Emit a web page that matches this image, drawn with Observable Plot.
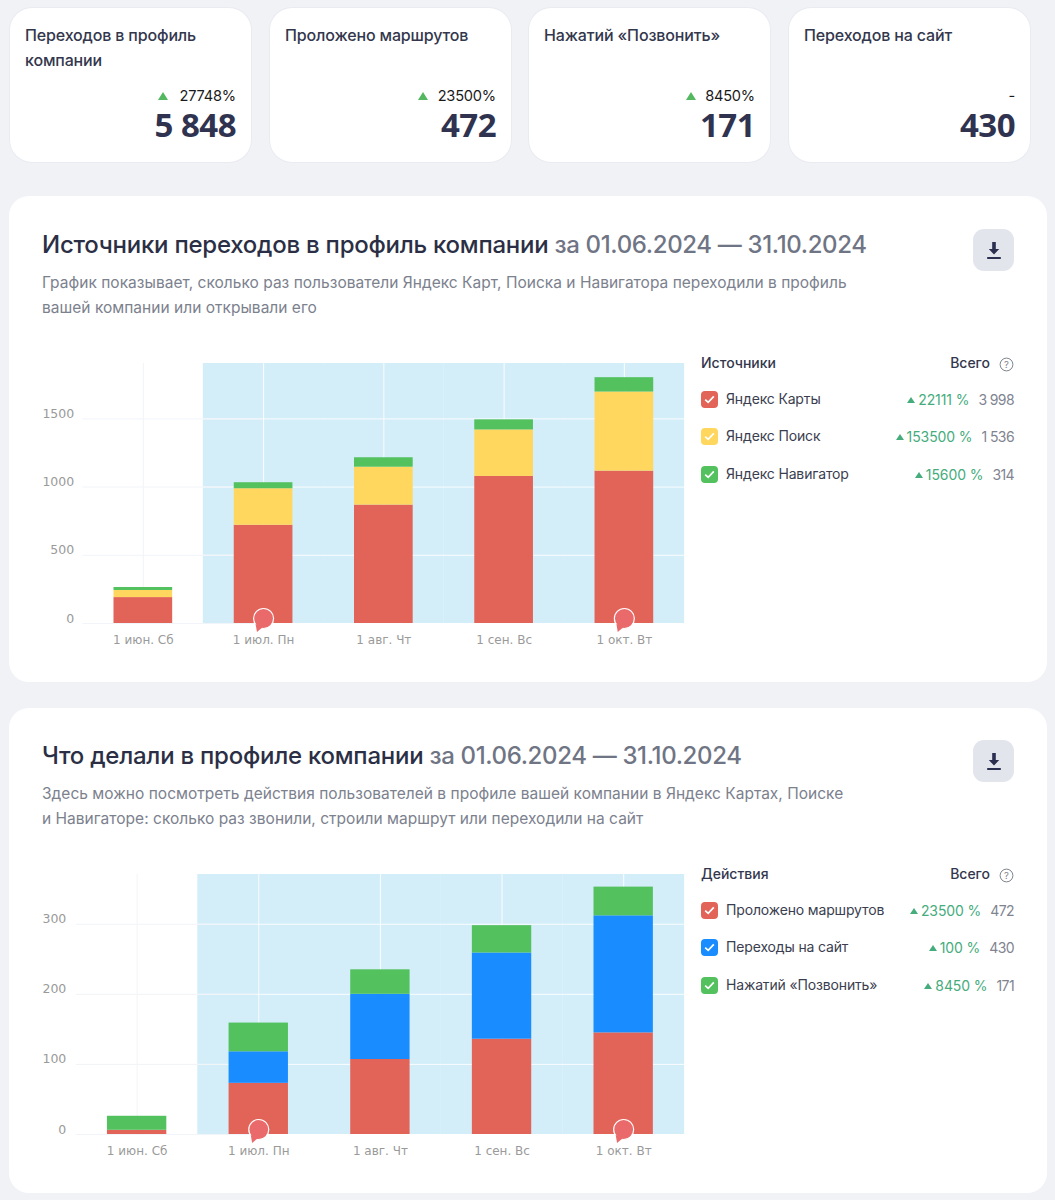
<!DOCTYPE html>
<html lang="ru">
<head>
<meta charset="utf-8">
<script src="https://cdn.jsdelivr.net/npm/d3@7"></script>
<script src="https://cdn.jsdelivr.net/npm/@observablehq/plot@0.6"></script>
<style>
html,body{margin:0;padding:0;background:#f0f2f6;}
body{position:relative;width:1055px;height:1200px;overflow:hidden;font-family:Inter,"Noto Sans",sans-serif;color:#2b2f45;}
.abs,.card,.panel,.chart{position:absolute;}
.t{position:absolute;white-space:nowrap;line-height:1;}
.card{background:#fff;border-radius:22px;box-shadow:0 0 0 1px #e9ebf1;top:8px;height:154px;width:241px;}
.panel{background:#fff;border-radius:20px;left:9px;width:1038px;}
.btn{position:absolute;left:973px;width:41px;height:42px;border-radius:11px;background:#e3e5ed;display:flex;align-items:center;justify-content:center;}
.chart svg{display:block;overflow:visible;}
.chk{position:absolute;left:701px;width:17px;height:17px;border-radius:4px;display:flex;align-items:center;justify-content:center;}
.tri{display:inline-block;width:0;height:0;border-left:4px solid transparent;border-right:4px solid transparent;border-bottom:6px solid #45ac7c;margin-right:3px;vertical-align:2px;}
.tri.big{border-left-width:5.5px;border-right-width:5.5px;border-bottom-width:8px;border-bottom-color:#53b85f;margin-right:0;vertical-align:0;position:absolute;}
</style>
</head>
<body>
<script>
// ---- shared
const months = ["1 июн. Сб","1 июл. Пн","1 авг. Чт","1 сен. Вс","1 окт. Вт"];
const markerMonths = ["1 июл. Пн","1 окт. Вт"];

// ---- stat cards
const cardTitles = [["Переходов в профиль","компании"],["Проложено маршрутов"],["Нажатий «Позвонить»"],["Переходов на сайт"]];
const cardDeltas = ["27748%","23500%","8450%","-"];
const cardValues = ["5 848","472","171","430"];
const cardLefts = [10,270,529,789];
const cardTriLefts = [148,148,157];

// ---- chart 1: sources
const title1 = "Источники переходов в профиль компании";
const period = "за 01.06.2024 — 31.10.2024";
const sub1 = ["График показывает, сколько раз пользователи Яндекс Карт, Поиска и Навигатора переходили в профиль","вашей компании или открывали его"];
const series1 = ["Яндекс Карты","Яндекс Поиск","Яндекс Навигатор"];
const maps1 = [190,720,868,1078,1117];
const search1 = [52,268,278,341,580];
const navi1 = [22,44,69,74,105];
const delta1 = ["22111 %","153500 %","15600 %"];
const total1 = ["3 998","1 536","314"];
const colors1 = ["#e26357","#ffd75e","#52c15e"];
const ticks1 = [0,500,1000,1500];

// ---- chart 2: actions
const title2 = "Что делали в профиле компании";
const sub2 = ["Здесь можно посмотреть действия пользователей в профиле вашей компании в Яндекс Картах, Поиске","и Навигаторе: сколько раз звонили, строили маршрут или переходили на сайт"];
const series2 = ["Проложено маршрутов","Переходы на сайт","Нажатий «Позвонить»"];
const routes2 = [6,73,107,136,145];
const site2 = [0,45,93,123,167];
const calls2 = [20,41,35,39,41];
const delta2 = ["23500 %","100 %","8450 %"];
const total2 = ["472","430","171"];
const colors2 = ["#e26357","#198cff","#52c15e"];
const ticks2 = [0,100,200,300];

function el(cls,css,html,parent){
  const d=document.createElement("div");d.className=cls;
  if(css)d.style.cssText=css;
  if(html!==undefined)d.innerHTML=html;
  (parent||document.body).appendChild(d);
  return d;
}
// cards
cardLefts.forEach((l,i)=>{
  el("card",`left:${l}px`);
  cardTitles[i].forEach((line,j)=>el("t",`left:${l+15}px;top:${27+j*25}px;font-size:16px;font-weight:500;letter-spacing:-.15px;color:#33374d`,line));
  el("t",`right:${1055-(l+226)}px;top:89px;height:14px;font-size:14.6px;color:#1a1a1a;letter-spacing:-.2px`,cardDeltas[i]);
  if(cardDeltas[i]!=="-"){
    el("tri big",`left:${l+cardTriLefts[i]}px;top:92px`,"");
  }
  el("t",`right:${1055-(l+226)}px;top:108px;font-size:33px;font-weight:700;font-family:'Open Sans';color:#2f3350;letter-spacing:-.5px`,cardValues[i]);
});

const dl=`<svg width="16" height="19" viewBox="0 0 16 19"><path d="M6.2 1h3.6v7h3.4L8 13.6 2.8 8h3.4z M1.2 16h13.6v2H1.2z" fill="#2b2f50"/></svg>`;
const check=`<svg width="11" height="9" viewBox="0 0 11 9"><path d="M1.2 4.6 4.2 7.4 9.8 1.4" fill="none" stroke="#fff" stroke-width="1.7"/></svg>`;

function panel(o){
  el("panel",`top:${o.top}px;height:${o.h}px`);
  el("t",`left:42px;top:${o.top+36+o.dy}px;font-size:24px;font-weight:500;letter-spacing:-.25px;color:#2b2f45`,
     `${o.title} <span style="color:#6f7584;letter-spacing:-.35px">${period}</span>`);
  o.sub.forEach((s,i)=>el("t",`left:42px;top:${o.top+78+o.dy+i*25}px;font-size:15.5px;color:#7c818e;letter-spacing:.02px`,s));
  el("btn",`top:${o.btn}px`,dl);
  // legend
  const h=o.legendY;
  el("t",`left:701px;top:${h-7}px;font-size:14px;font-weight:500;color:#33374d`,o.legendTitle);
  el("t",`right:65px;top:${h-7}px;font-size:14px;font-weight:500;color:#33374d`,"Всего");
  el("abs",`left:999px;top:${h-7}px;width:15px;height:15px`,`<svg width="15" height="15" viewBox="0 0 15 15"><circle cx="7.5" cy="7.5" r="6.4" fill="none" stroke="#80848f"/><text x="7.5" y="11" text-anchor="middle" font-size="9.5" fill="#80848f" font-family="Inter">?</text></svg>`);
  o.series.forEach((s,i)=>{
    const y=h+36+i*37.3;
    el("chk",`top:${y-8}px;background:${o.colors[i]}`,check);
    el("t",`left:726px;top:${y-7}px;font-size:14px;letter-spacing:-.15px;color:#3b3e4f`,s);
    el("t",`right:41px;top:${y-6}px;font-size:14px;color:#7f8490;display:flex;align-items:center;letter-spacing:-.6px`,
       `<span style="color:#45ac7c;margin-right:9px;letter-spacing:-.1px"><span class="tri"></span>${o.delta[i]}</span>${o.total[i]}`);
  });
  // chart
  const vals=[o.a,o.b,o.c];
  const data=o.series.flatMap((s,k)=>months.map((m,i)=>({month:m,series:s,value:vals[k][i]})));
  const W=690, mL=o.left, mR=6, plotW=W-mL-mR;
  const step=plotW/months.length, pi=0.512, gap=step*pi/2+0.15;
  const bgMonths=months.slice(1);
  const grid="#f1f4f8";
  const chart=Plot.plot({
    width:W,height:320,marginLeft:mL,marginRight:mR,marginTop:23,marginBottom:37,
    style:{background:"transparent",fontFamily:"'DejaVu Sans'",fontSize:"12px",color:"#9a9a9a"},
    x:{domain:months,paddingInner:pi,paddingOuter:pi/2,round:false,label:null},
    y:{domain:[0,o.top_],label:null},
    color:{domain:o.series,range:o.colors},
    marks:[
      Plot.barY(bgMonths,{x:d=>d,y1:0,y2:o.top_,fill:"#d4eef9",insetLeft:-gap,insetRight:-gap}),
      Plot.ruleY(o.ticks.slice(1),{stroke:"#fff",strokeOpacity:.85}),
      Plot.ruleY(o.ticks,{x1:()=>months[0],x2:()=>months[1],stroke:grid,insetLeft:-gap,insetRight:gap}),
      Plot.ruleX(months.slice(0,1),{x:d=>d,stroke:grid}),
      Plot.ruleX(bgMonths,{x:d=>d,stroke:"#fff",strokeOpacity:.85}),
      Plot.barY(data,{x:"month",y:"value",fill:"series",order:null}),
      Plot.dot(markerMonths,{x:d=>d,y:()=>0,dy:-5,r:10,fill:"#ea6a6b",stroke:"#fff",strokeWidth:1.2}),
      Plot.dot(markerMonths,{x:d=>d,y:()=>0,dx:-5,dy:4,r:3,symbol:"triangle",rotate:200,fill:"#ea6a6b"}),
      Plot.axisY({ticks:o.ticks,tickFormat:d3.format("d"),tickSize:0,tickPadding:o.pad,dy:-5,label:null,fill:"#9a9a9a",fontSize:12.5}),
      Plot.axisX({tickSize:0,tickPadding:12,label:null,fill:"#9a9a9a",fontSize:12})
    ]
  });
  const c=el("chart",`left:0;top:${o.svgTop}px`);
  c.appendChild(chart);
}

panel({top:196,h:486,dy:1,btn:229,title:title1,sub:sub1,series:series1,colors:colors1,delta:delta1,total:total1,legendTitle:"Источники",legendY:363,
  a:maps1,b:search1,c:navi1,ticks:ticks1,top_:1906,left:82.7,pad:9,svgTop:340});
panel({top:708,h:485,dy:0,btn:740,title:title2,sub:sub2,series:series2,colors:colors2,delta:delta2,total:total2,legendTitle:"Действия",legendY:874,
  a:routes2,b:site2,c:calls2,ticks:ticks2,top_:371,left:75.8,pad:10,svgTop:851});
</script>
</body>
</html>
